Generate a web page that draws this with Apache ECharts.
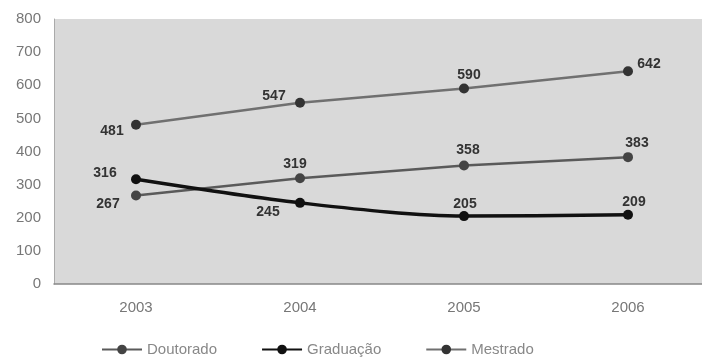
<!DOCTYPE html>
<html>
<head>
<meta charset="utf-8">
<script src="https://cdn.jsdelivr.net/npm/echarts@6/dist/echarts.min.js"></script>
<style>
  html, body { margin: 0; padding: 0; background: #fff; overflow: hidden; }
  /* the plot area runs a little past the right edge of the page */
  #chart { width: 712px; height: 358px; }
</style>
</head>
<body>
<div id="chart"></div>
<script>
// Categories and values
const years = ['2003', '2004', '2005', '2006'];
const doutorado = [267, 319, 358, 383];
const graduacao = [316, 245, 205, 209];
const mestrado = [481, 547, 590, 642];
const yTicks = [0, 100, 200, 300, 400, 500, 600, 700, 800];

// Label offsets (px) from each marker centre
const doutoradoOffsets = [[-28, 9], [-5, -14], [4, -15], [9, -14]];
const graduacaoOffsets = [[-31, -6], [-32, 9], [1, -12], [6, -13]];
const mestradoOffsets = [[-24, 6], [-26, -7], [5, -13], [21, -7]];

const FONT = 'Liberation Sans, Arial, sans-serif';

function withLabels(values, offsets) {
  return values.map((v, i) => ({
    value: v,
    label: {
      show: true,
      position: 'inside',
      offset: offsets[i],
      fontFamily: FONT,
      fontSize: 14,
      fontWeight: 'bold',
      color: '#333'
    }
  }));
}

const chart = echarts.init(document.getElementById('chart'));
chart.setOption({
  animation: false,
  backgroundColor: '#fff',
  grid: { left: 54, top: 19, right: 2, height: 265, backgroundColor: '#d9d9d9', show: true, borderWidth: 0 },
  legend: {
    top: 337,
    left: 96,
    itemWidth: 40,
    itemHeight: 12,
    itemGap: 44,
    textStyle: { fontFamily: FONT, fontSize: 15, color: '#888' },
    data: ['Doutorado', 'Graduação', 'Mestrado']
  },
  xAxis: {
    type: 'category',
    data: years,
    boundaryGap: true,
    axisLine: { lineStyle: { color: '#888', width: 1.5 } },
    axisTick: { show: false },
    axisLabel: { margin: 16, fontFamily: FONT, fontSize: 15, color: '#777' }
  },
  yAxis: {
    type: 'value',
    min: yTicks[0],
    max: yTicks[yTicks.length - 1],
    interval: 100,
    axisLine: { show: true, lineStyle: { color: '#aaa' } },
    axisTick: { show: false },
    splitLine: { show: false },
    axisLabel: { margin: 13, fontFamily: FONT, fontSize: 15, color: '#777' }
  },
  series: [
    {
      name: 'Doutorado',
      type: 'line',
      data: withLabels(doutorado, doutoradoOffsets),
      symbol: 'circle',
      symbolSize: 10,
      itemStyle: { color: '#444' },
      lineStyle: { color: '#5a5a5a', width: 2.5 },
      z: 3
    },
    {
      name: 'Graduação',
      type: 'line',
      data: withLabels(graduacao, graduacaoOffsets),
      symbol: 'circle',
      symbolSize: 10,
      smooth: 0.3,
      itemStyle: { color: '#111' },
      lineStyle: { color: '#111', width: 3.5 },
      z: 4
    },
    {
      name: 'Mestrado',
      type: 'line',
      data: withLabels(mestrado, mestradoOffsets),
      symbol: 'circle',
      symbolSize: 10,
      itemStyle: { color: '#333' },
      lineStyle: { color: '#707070', width: 2.5 },
      z: 2
    }
  ]
});
</script>
</body>
</html>
